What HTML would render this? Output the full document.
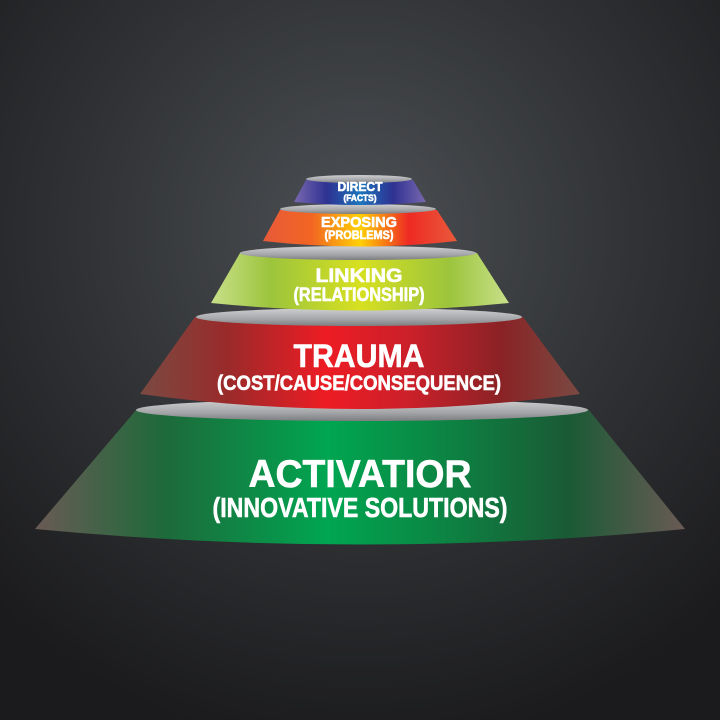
<!DOCTYPE html>
<html><head><meta charset="utf-8"><style>
html,body{margin:0;padding:0;background:#222}
svg{display:block}
text{font-family:"Liberation Sans",sans-serif;font-weight:bold;fill:#fff;stroke:#fff;stroke-width:0.6;text-anchor:middle}
</style></head><body>
<svg width="720" height="720" viewBox="0 0 720 720" xmlns="http://www.w3.org/2000/svg">
<defs>
<radialGradient id="bg" cx="360" cy="230" r="520" gradientUnits="userSpaceOnUse">
<stop offset="0" stop-color="#4d5054"/><stop offset="0.55" stop-color="#2f3134"/><stop offset="1" stop-color="#1b1b1d"/>
</radialGradient>
<linearGradient id="gGreen" x1="0" x2="1" y1="0" y2="0">
<stop offset="0" stop-color="#6a5a55"/><stop offset="0.2" stop-color="#1d6a3a"/><stop offset="0.45" stop-color="#00a651"/><stop offset="0.6" stop-color="#0a8a45"/><stop offset="0.82" stop-color="#1a5a35"/><stop offset="1" stop-color="#6a5a55"/>
</linearGradient>
<linearGradient id="gRed" x1="0" x2="1" y1="0" y2="0">
<stop offset="0" stop-color="#7a4a42"/><stop offset="0.2" stop-color="#9a2a2a"/><stop offset="0.42" stop-color="#ed1c24"/><stop offset="0.62" stop-color="#c9202a"/><stop offset="0.82" stop-color="#8a2225"/><stop offset="1" stop-color="#7a4a42"/>
</linearGradient>
<linearGradient id="gLime" x1="0" x2="1" y1="0" y2="0">
<stop offset="0" stop-color="#c8e08a"/><stop offset="0.2" stop-color="#9cc43c"/><stop offset="0.5" stop-color="#d7e021"/><stop offset="0.8" stop-color="#9cc43c"/><stop offset="1" stop-color="#c8e08a"/>
</linearGradient>
<linearGradient id="gOrange" x1="0" x2="1" y1="0" y2="0">
<stop offset="0" stop-color="#e85a3a"/><stop offset="0.25" stop-color="#f26522"/><stop offset="0.5" stop-color="#ffd005"/><stop offset="0.75" stop-color="#ee2a24"/><stop offset="1" stop-color="#e85a3a"/>
</linearGradient>
<linearGradient id="gBlue" x1="0" x2="1" y1="0" y2="0">
<stop offset="0" stop-color="#7a68b0"/><stop offset="0.25" stop-color="#2e3192"/><stop offset="0.5" stop-color="#1c75bc"/><stop offset="0.75" stop-color="#2e3192"/><stop offset="1" stop-color="#7a68b0"/>
</linearGradient>
<linearGradient id="gTop" x1="0" x2="0" y1="0" y2="1">
<stop offset="0" stop-color="#d0d0d2"/><stop offset="0.6" stop-color="#a6a7aa"/><stop offset="1" stop-color="#7c7d80"/>
</linearGradient>
</defs>
<rect width="720" height="720" fill="url(#bg)"/>

<path d="M137 409 L588 409 L685 529 Q360 560 35 529 Z" fill="url(#gGreen)"/>
<ellipse cx="362" cy="410" rx="226" ry="11" fill="url(#gTop)"/>
<path d="M195 317 L523 317 L580 394 Q360 424 140 394 Z" fill="url(#gRed)"/>
<ellipse cx="359" cy="317" rx="163" ry="9" fill="url(#gTop)"/>
<path d="M240 253 L477 253 L509 303 Q360 318 211 303 Z" fill="url(#gLime)"/>
<ellipse cx="358" cy="253" rx="118" ry="7" fill="url(#gTop)"/>
<path d="M280 210 L437 210 L457 241 Q360 252 263 241 Z" fill="url(#gOrange)"/>
<ellipse cx="358" cy="209" rx="78" ry="5" fill="url(#gTop)"/>
<path d="M306 180 L413 180 L426 202 Q360 208 294 202 Z" fill="url(#gBlue)"/>
<ellipse cx="359" cy="179" rx="53" ry="4" fill="url(#gTop)"/>

<text x="360" y="191" font-size="13" textLength="45" lengthAdjust="spacingAndGlyphs">DIRECT</text>
<text x="360" y="201" font-size="9" stroke-width="0.3" textLength="33" lengthAdjust="spacingAndGlyphs">(FACTS)</text>
<text x="359" y="227" font-size="15" textLength="76" lengthAdjust="spacingAndGlyphs">EXPOSING</text>
<text x="359" y="239" font-size="12" textLength="69" lengthAdjust="spacingAndGlyphs">(PROBLEMS)</text>
<text x="359" y="282" font-size="19" textLength="87" lengthAdjust="spacingAndGlyphs">LINKING</text>
<text x="359" y="301" font-size="19" textLength="131" lengthAdjust="spacingAndGlyphs">(RELATIONSHIP)</text>
<text x="359" y="367" font-size="32" stroke-width="1" textLength="131" lengthAdjust="spacingAndGlyphs">TRAUMA</text>
<text x="359" y="390" font-size="21" textLength="284" lengthAdjust="spacingAndGlyphs">(COST/CAUSE/CONSEQUENCE)</text>
<text x="360" y="487" font-size="39" stroke-width="1.2" textLength="223" lengthAdjust="spacingAndGlyphs">ACTIVATIOR</text>
<text x="360" y="517" font-size="28" stroke-width="0.8" textLength="295" lengthAdjust="spacingAndGlyphs">(INNOVATIVE SOLUTIONS)</text>
</svg>
</body></html>
